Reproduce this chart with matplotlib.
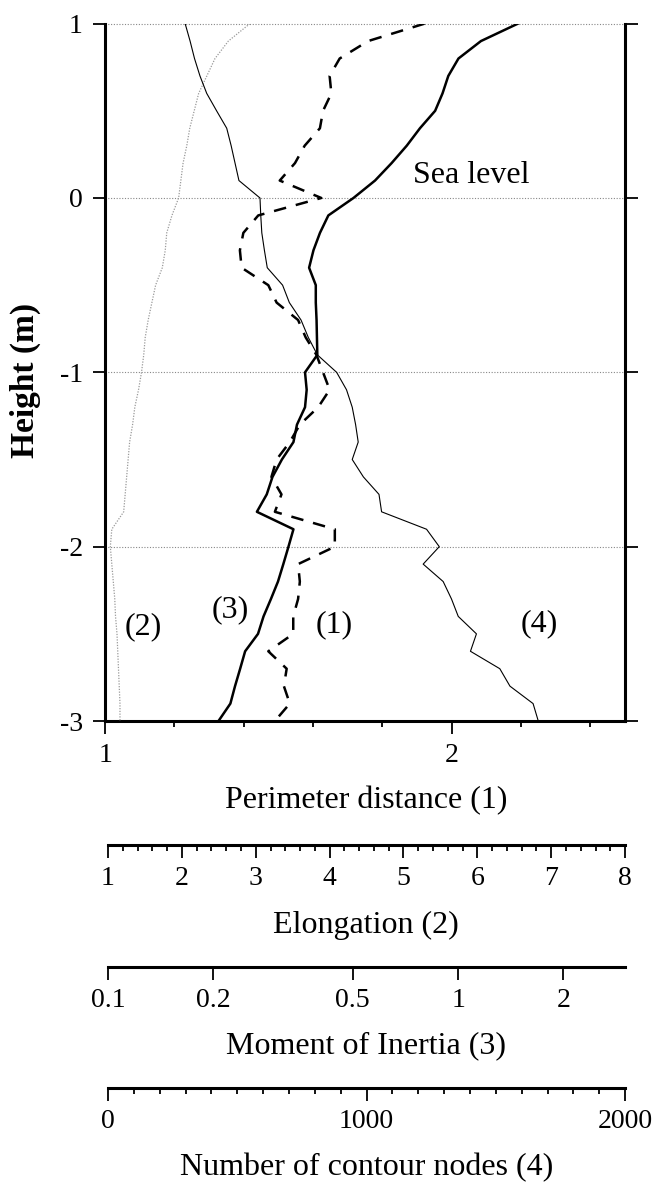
import matplotlib.pyplot as plt
from matplotlib.ticker import MultipleLocator, NullLocator

plt.rcParams['font.family'] = ['Liberation Serif', 'DejaVu Serif']
plt.rcParams['axes.unicode_minus'] = False

# Data: one value every 0.1 m of height
height = [1.0, 0.9, 0.8, 0.7, 0.6, 0.5, 0.4, 0.3, 0.2, 0.1,
          0.0, -0.1, -0.2, -0.3, -0.4, -0.5, -0.6, -0.7, -0.8, -0.9,
          -1.0, -1.1, -1.2, -1.3, -1.4, -1.5, -1.6, -1.7, -1.8, -1.9,
          -2.0, -2.1, -2.2, -2.3, -2.4, -2.5, -2.6, -2.7, -2.8, -2.9, -3.0]

# (1) perimeter distance
perimeter = [1.922, 1.759, 1.677, 1.648, 1.653, 1.629, 1.620, 1.576, 1.548, 1.504,
             1.624, 1.442, 1.399, 1.389, 1.394, 1.471, 1.495, 1.557, 1.579, 1.610,
             1.629, 1.648, 1.615, 1.562, 1.533, 1.495, 1.480, 1.509, 1.490, 1.663,
             1.663, 1.557, 1.562, 1.557, 1.543, 1.543, 1.471, 1.524, 1.516, 1.533, 1.490]

# (2) elongation
elongation = [2.95, 2.66, 2.48, 2.37, 2.26, 2.20, 2.14, 2.10, 2.05, 2.02,
              1.99, 1.90, 1.83, 1.81, 1.77, 1.68, 1.63, 1.58, 1.54, 1.52,
              1.49, 1.45, 1.40, 1.37, 1.33, 1.31, 1.29, 1.27, 1.25, 1.09,
              1.07, 1.09, 1.11, 1.13, 1.14, 1.16, 1.17, 1.18, 1.19, 1.20, 1.20]

# (3) moment of inertia
moment = [1.49, 1.17, 1.01, 0.945, 0.91, 0.867, 0.785, 0.72, 0.652, 0.585,
          0.508, 0.431, 0.408, 0.391, 0.380, 0.397, 0.397, 0.399, 0.400, 0.401,
          0.370, 0.374, 0.370, 0.351, 0.343, 0.318, 0.299, 0.288, 0.270, 0.343,
          0.332, 0.321, 0.310, 0.296, 0.282, 0.272, 0.250, 0.242, 0.234, 0.227, 0.210]

# (4) number of contour nodes
nodes = [308, 327, 344, 365, 391, 429, 468, 485, 500, 515,
         596, 599, 603, 613, 624, 683, 709, 754, 782, 817,
         891, 929, 951, 964, 974, 951, 994, 1054, 1064, 1237,
         1286, 1224, 1301, 1333, 1359, 1429, 1406, 1519, 1558, 1647, 1667]

fig = plt.figure(figsize=(6.57, 11.82), dpi=100)
rect = [0.160, 0.390, 0.791, 0.590]

# main axes: perimeter distance
ax = fig.add_axes(rect)
ax.set_xlim(1, 2.5)
ax.set_ylim(-3, 1)
for h in [1, 0, -1, -2]:
    ax.axhline(h, color='#888888', lw=0.8, ls=(0, (1, 1.5)), zorder=1, clip_on=False)
ax.plot(perimeter, height, color='black', lw=1.8, dashes=(5, 4), zorder=3)

ax.spines['top'].set_visible(False)
for s in ['left', 'right', 'bottom']:
    ax.spines[s].set_linewidth(2.2)
ax.set_yticks([1, 0, -1, -2, -3])
ax.set_yticklabels(['1', '0', '-1', '-2', '-3'])
ax.set_xticks([1, 2])
ax.set_xticklabels(['1', '2'])
ax.xaxis.set_minor_locator(MultipleLocator(0.2))
ax.tick_params(axis='y', direction='out', length=9, width=1.3, left=True, right=True,
               labelsize=20, pad=7)
ax.tick_params(axis='x', which='major', direction='out', length=9, width=1.3,
               labelsize=20, pad=7)
ax.tick_params(axis='x', which='minor', direction='out', length=4.5, width=1.3)

# overlaid axes for the other three series (same box, own x scales)
ax2 = fig.add_axes(rect, sharey=ax)
ax2.set_xlim(1, 8)
ax2.plot(elongation, height, color='#9a9a9a', lw=0.9, ls=(0, (1, 1.2)))
ax2.axis('off')

ax3 = fig.add_axes(rect, sharey=ax)
ax3.set_xscale('log')
ax3.set_xlim(0.1, 3)
ax3.plot(moment, height, color='black', lw=1.8)
ax3.axis('off')

ax4 = fig.add_axes(rect, sharey=ax)
ax4.set_xlim(0, 2000)
ax4.plot(nodes, height, color='black', lw=0.8)
ax4.axis('off')

# curve labels
ax.text(2.058, 0.13, 'Sea level', fontsize=23, ha='center', va='center')
ax.text(1.110, -2.46, '(2)', fontsize=23, ha='center', va='center')
ax.text(1.360, -2.36, '(3)', fontsize=23, ha='center', va='center')
ax.text(1.660, -2.45, '(1)', fontsize=23, ha='center', va='center')
ax.text(2.254, -2.44, '(4)', fontsize=23, ha='center', va='center')

fig.text(25 / 657, 1 - 380 / 1182, 'Height (m)', rotation=90, fontsize=24,
         fontweight='bold', ha='center', va='center')
fig.text(0.5575, 1 - 808 / 1182, 'Perimeter distance (1)', fontsize=23,
         ha='center', va='baseline')


def scale_bar(y_px, title, title_px):
    b = fig.add_axes([0.1644, 1 - y_px / 1182, 0.787, 0.0001])
    b.patch.set_visible(False)
    for s in ['top', 'left', 'right']:
        b.spines[s].set_visible(False)
    b.spines['bottom'].set_linewidth(2.2)
    b.set_yticks([])
    b.tick_params(axis='x', which='major', direction='out', length=9, width=1.3,
                  labelsize=20, pad=6)
    b.tick_params(axis='x', which='minor', direction='out', length=4.5, width=1.3)
    fig.text(0.5575, 1 - title_px / 1182, title, fontsize=23, ha='center', va='baseline')
    return b


b1 = scale_bar(845, 'Elongation (2)', 933)
b1.set_xlim(1, 8)
b1.set_xticks([1, 2, 3, 4, 5, 6, 7, 8])
b1.xaxis.set_minor_locator(MultipleLocator(0.2))

b2 = scale_bar(967, 'Moment of Inertia (3)', 1053)
b2.set_xscale('log')
b2.set_xlim(0.1, 3)
b2.set_xticks([0.1, 0.2, 0.5, 1, 2])
b2.set_xticklabels(['0.1', '0.2', '0.5', '1', '2'])
b2.xaxis.set_minor_locator(NullLocator())

b3 = scale_bar(1088, 'Number of contour nodes (4)', 1175)
b3.set_xlim(0, 2000)
b3.set_xticks([0, 1000, 2000])
b3.xaxis.set_minor_locator(MultipleLocator(100))

fig.savefig('out.png', dpi=100)
